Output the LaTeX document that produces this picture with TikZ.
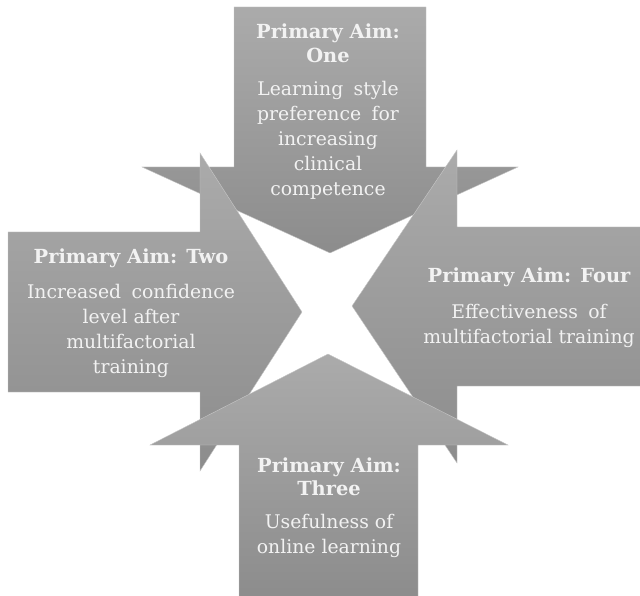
\documentclass[tikz,border=0pt]{standalone}
\usepackage{fontspec}
\setmainfont{DejaVu Serif}
\newcommand{\widesp}{\hspace{0.55em}}
\begin{document}
\begin{tikzpicture}[x=1pt,y=-1pt,
  arrowshape/.style={top color=white!67!black, bottom color=white!55!black,
    draw=white!78!black, line width=0.4pt, line join=miter},
  headtext/.style={text=white!95!black, font=\fontsize{19.4}{23.5}\selectfont\bfseries,
    align=center, inner sep=0pt},
  bodytext/.style={text=white!95!black, font=\fontsize{18.8}{25}\selectfont,
    align=center, inner sep=0pt}]
  \useasboundingbox (0,0) rectangle (640,596);

  % arrow from the top, pointing down
  \path[arrowshape] (234,7) -- (426,7) -- (426,167) -- (518,167) -- (330,253)
    -- (142,167) -- (234,167) -- cycle;
  % arrow from the left, pointing right
  \path[arrowshape] (8,232) -- (200,232) -- (200,153) -- (302,312) -- (200,471)
    -- (200,392) -- (8,392) -- cycle;
  % arrow from the right, pointing left
  \path[arrowshape] (641,227) -- (457,227) -- (457,150) -- (352,306) -- (457,463)
    -- (457,386) -- (641,386) -- cycle;
  % arrow from the bottom, pointing up
  \path[arrowshape] (239,597) -- (239,445) -- (150,445) -- (328,354) -- (508,445)
    -- (418,445) -- (418,597) -- cycle;

  % texts
  \node[headtext] (h1) at (328,43.5) {Primary Aim:\\One};
  \node[bodytext] (b1) at (328,140) {Learning\widesp style\\preference\widesp for\\increasing\\clinical\\competence};

  \node[headtext] (h2) at (131,258) {Primary Aim: Two};
  \node[bodytext] (b2) at (131,331) {Increased\widesp confidence\\level after\\multifactorial\\training};

  \node[headtext] (h4) at (529,277) {Primary Aim: Four};
  \node[bodytext] (b4) at (529,326) {Effectiveness\widesp of\\multifactorial training};

  \node[headtext] (h3) at (329,477) {Primary Aim:\\Three};
  \node[bodytext] (b3) at (329,536) {Usefulness of\\online learning};
\end{tikzpicture}
\end{document}
